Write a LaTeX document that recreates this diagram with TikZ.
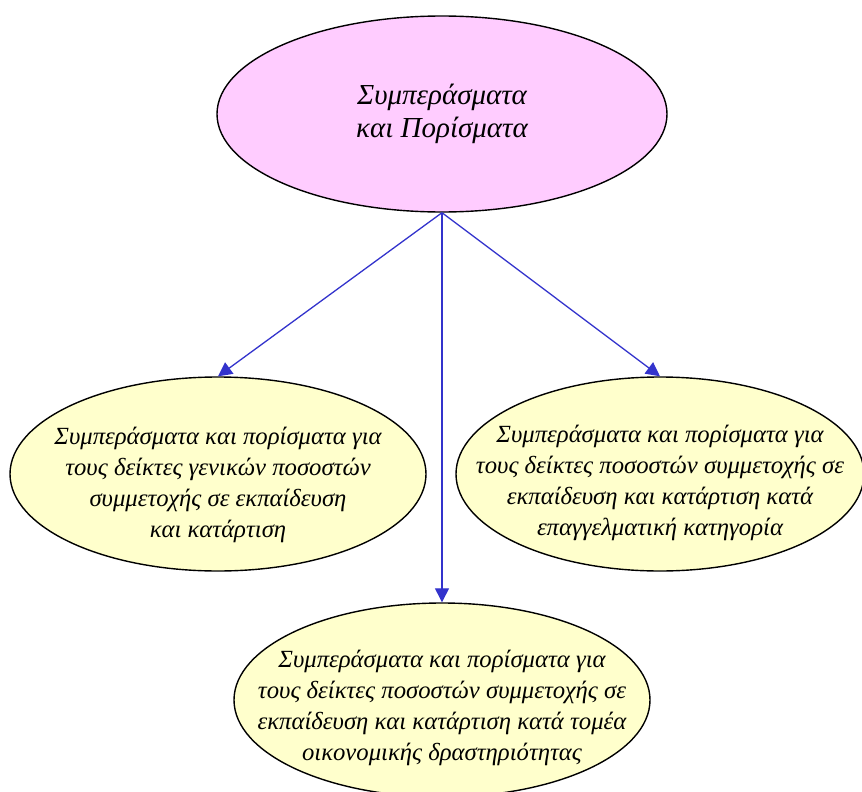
\documentclass[tikz,border=0pt]{standalone}
\usepackage{fontspec}
\setmainfont{Liberation Serif}
\usetikzlibrary{arrows.meta,shapes.geometric}
\definecolor{rootpink}{RGB}{255,204,255}
\definecolor{leafyellow}{RGB}{255,255,204}
\definecolor{arrowblue}{RGB}{51,51,204}
\tikzset{
  rootell/.style = {ellipse,draw=black,line width=1.4pt,fill=rootpink,
                    minimum width=450pt,minimum height=196pt,align=center,
                    font=\fontsize{29}{33}\selectfont\itshape,inner sep=0pt},
  leafell/.style = {ellipse,draw=black,line width=1.4pt,fill=leafyellow,
                    minimum height=194pt,align=center,
                    font=\fontsize{24.7}{31}\selectfont\itshape,
                    inner xsep=-50pt,inner ysep=-20pt},
  arrow/.style   = {-{Triangle[length=14pt,width=14pt]},line width=1.3pt,
                    color=arrowblue},
}
% pushes the lines of a leaf a little below its centre
\newcommand{\leaftop}[1]{\rule{0pt}{#1}}
\begin{document}
\begin{tikzpicture}[x=1pt,y=-1pt]
  \useasboundingbox (0,0) rectangle (862,792);
  \node[rootell] (root) at (442,114) {Συμπεράσματα\\και Πορίσματα};
  \node[leafell,minimum width=416pt] (genika) at (218,474)
    {\leaftop{40pt}Συμπεράσματα και πορίσματα για\\τους δείκτες γενικών ποσοστών\\
     συμμετοχής σε εκπαίδευση\\και κατάρτιση};
  \node[leafell,minimum width=408pt] (epaggelma) at (660,474)
    {\leaftop{36pt}Συμπεράσματα και πορίσματα για\\τους δείκτες ποσοστών συμμετοχής σε\\
     εκπαίδευση και κατάρτιση κατά\\επαγγελματική κατηγορία};
  \node[leafell,minimum width=416pt] (tomeas) at (442,700)
    {\leaftop{33pt}Συμπεράσματα και πορίσματα για\\τους δείκτες ποσοστών συμμετοχής σε\\
     εκπαίδευση και κατάρτιση κατά τομέα\\οικονομικής δραστηριότητας};
  \foreach \t in {genika,epaggelma,tomeas}
    \draw[arrow] (root.south) -- (\t.north);
\end{tikzpicture}
\end{document}
